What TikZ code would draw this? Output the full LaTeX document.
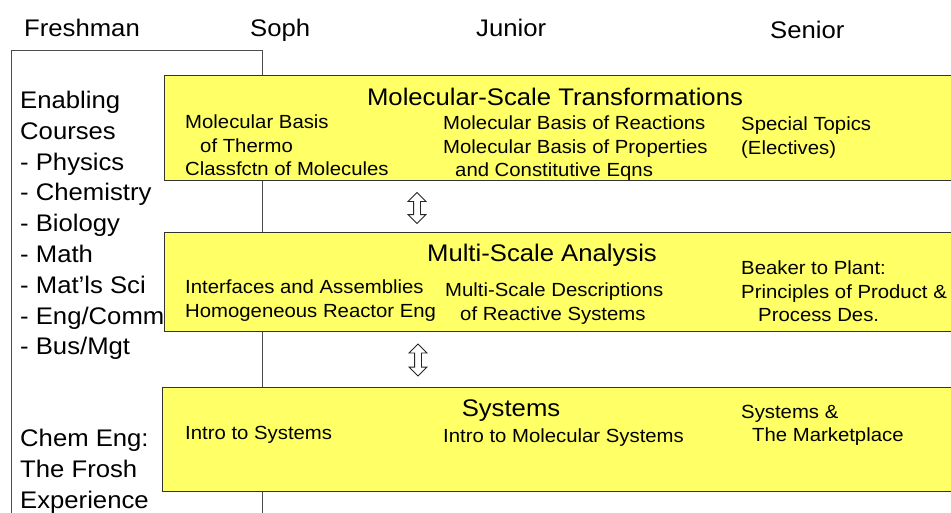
\documentclass[tikz,border=0pt]{standalone}
\usepackage{fontspec}
\setmainfont[FakeStretch=1.07]{Liberation Sans}
\usetikzlibrary{shapes.arrows}
\definecolor{bandyellow}{RGB}{255,255,102}
\tikzset{
  year/.style={anchor=base west, inner sep=0, font=\fontsize{24}{30.8}\selectfont},
  leftcol/.style={anchor=north west, inner sep=0, align=left, font=\fontsize{24}{30.8}\selectfont},
  band/.style={draw=black!80, fill=bandyellow, line width=0.8pt, anchor=north west},
  bandtitle/.style={anchor=base, inner sep=0, font=\fontsize{24}{29}\selectfont},
  course/.style={anchor=north west, inner sep=0, align=left, font=\fontsize{19}{23.5}\selectfont},
  updown/.style={double arrow, draw=black!85, line width=0.8pt, fill=white, rotate=90, minimum height=31pt, inner sep=3pt, double arrow head extend=5.5pt, double arrow tip angle=90}
}

\begin{document}
\begin{tikzpicture}[x=1pt, y=-1pt]
    \useasboundingbox (0,0) rectangle (951,512);
    \clip (0,0) rectangle (951,512);

    \node[year] (fresh) at (24,36) {Freshman};
    \node[year] (soph) at (250,36) {Soph};
    \node[year] (junior) at (476,36) {Junior};
    \node[year] (senior) at (770,38) {Senior};

    \draw[black!70, line width=0.8pt] (11,530) |- (262,50) -- (262,530);
    \node[leftcol] (enabling) at (20,91) {Enabling\\Courses\\- Physics\\- Chemistry\\- Biology\\- Math\\- Mat'ls Sci\\- Eng/Comm\\- Bus/Mgt};
    \node[leftcol] (frosh) at (20,429) {Chem Eng:\\The Frosh\\Experience};

    \node[band, minimum width=790pt, minimum height=105pt] (mol) at (164,75) {};
    \node[band, minimum width=790pt, minimum height=99pt] (multi) at (164,232) {};
    \node[band, minimum width=792pt, minimum height=104pt] (sys) at (162,387) {};

    \node[bandtitle] (molT) at (555,105) {Molecular-Scale Transformations};
    \node[course] (molA) at (185,115) {Molecular Basis\\\hspace*{15pt}of Thermo\\Classfctn of Molecules};
    \node[course] (molB) at (443,116) {Molecular Basis of Reactions\\Molecular Basis of Properties\\\hspace*{12pt}and Constitutive Eqns};
    \node[course] (molC) at (741,117) {Special Topics\\(Electives)};

    \node[bandtitle] (multiT) at (542,261) {Multi-Scale Analysis};
    \node[course] (multiA) at (185,280) {Interfaces and Assemblies\\Homogeneous Reactor Eng};
    \node[course] (multiB) at (445,283) {Multi-Scale Descriptions\\\hspace*{15pt}of Reactive Systems};
    \node[course] (multiC) at (741,261) {Beaker to Plant:\\Principles of Product \&\\\hspace*{17pt}Process Des.};

    \node[bandtitle] (sysT) at (511,416) {Systems};
    \node[course] (sysA) at (185,426) {Intro to Systems};
    \node[course] (sysB) at (443,429) {Intro to Molecular Systems};
    \node[course] (sysC) at (741,405) {Systems \&\\\hspace*{11pt}The Marketplace};

    \node[updown] (arrA) at (417,208) {};
    \node[updown, minimum height=32pt] (arrB) at (418,360) {};
\end{tikzpicture}
\end{document}
